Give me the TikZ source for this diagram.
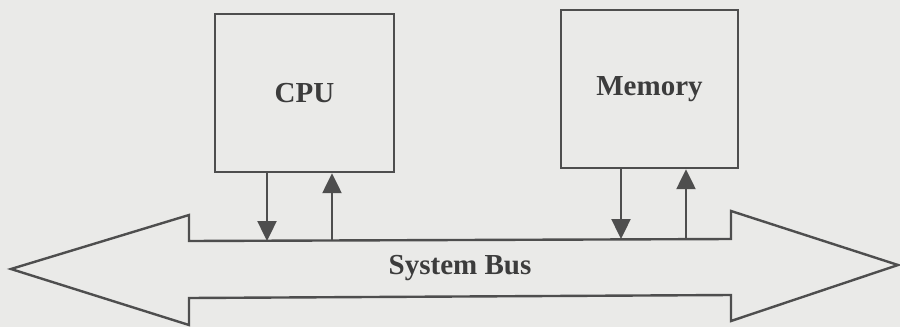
\documentclass[tikz,border=0pt]{standalone}
\usepackage{fontspec}
\setmainfont{Liberation Serif}
\usetikzlibrary{arrows.meta}
\definecolor{ink}{RGB}{78,78,78}
\definecolor{type}{RGB}{60,60,60}
\definecolor{paper}{RGB}{234,234,232}
\begin{document}
\begin{tikzpicture}[x=0.5pt, y=-0.5pt, line join=miter, line width=1.2pt, draw=ink,
    font=\fontsize{14.5}{16}\selectfont\bfseries,
    >={Triangle[width=9.5pt,length=10pt]},
    unit/.style={draw=ink, text=type, line width=1.2pt, inner sep=0pt}]
			\fill[paper] (0,0) rectangle (900,327);
			\useasboundingbox (0,0) rectangle (900,327);
			\node[unit, minimum width=89.5pt, minimum height=79pt] (cpu) at (304.5,93) {CPU};
			\node[unit, minimum width=88.5pt, minimum height=79pt] (mem) at (649.5,89) {Memory};
			\coordinate (L) at (11,269);
			\coordinate (R) at (898,265);
			\draw[ink] (L) -- (189,215) -- (189,241) -- (731,239) -- (731,211) -- (R)
				-- (731,321) -- (731,295) -- (189,298) -- (189,325) -- cycle;
			\node[text=type] (bus) at (460,268) {System Bus};
			\coordinate (c1) at (267,241);
			\coordinate (c2) at (332,241);
			\coordinate (m1) at (621,239);
			\coordinate (m2) at (686,239);
			\draw[->, ink] (cpu.south -| c1) -- (c1);
			\draw[<-, ink] (cpu.south -| c2) -- (c2);
			\draw[->, ink] (mem.south -| m1) -- (m1);
			\draw[<-, ink] (mem.south -| m2) -- (m2);
		\end{tikzpicture}
\end{document}
